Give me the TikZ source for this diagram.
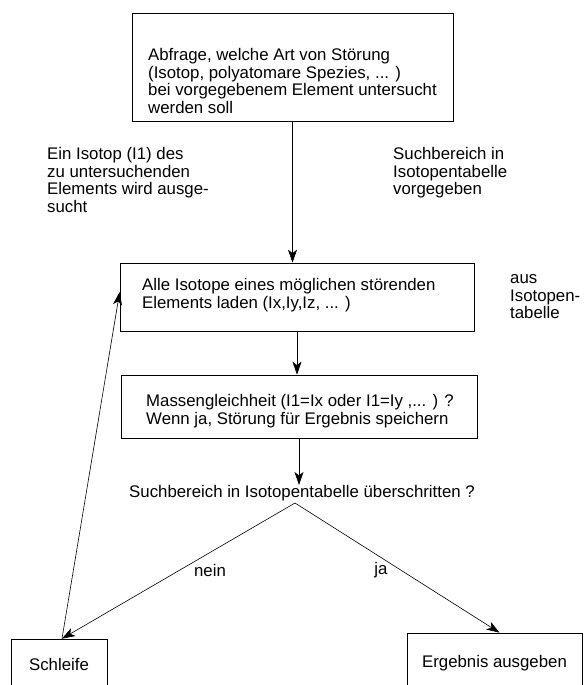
\documentclass[tikz,border=0pt]{standalone}
\usepackage{fontspec}
\setmainfont{Liberation Sans}
\usetikzlibrary{arrows.meta}
\tikzset{
  kasten/.style={draw, line width=0.7pt, inner sep=0pt},
  schrift/.style={font=\fontsize{16.8}{17.8}\selectfont, align=left, inner sep=0pt},
  pfeil/.style={line width=0.6pt, -{Stealth[length=13pt,width=9pt,inset=3.5pt]}}
}

\begin{document}
\begin{tikzpicture}[x=1pt,y=-1pt]
    \clip (0,0) rectangle (586,685);
    % boxes
    \node[kasten, minimum width=321pt, minimum height=108pt] (abfrage) at (292.5,67.5) {};
    \node[kasten, minimum width=354pt, minimum height=68pt] (alle) at (297,297) {};
    \node[kasten, minimum width=356pt, minimum height=63pt] (masse) at (299,406.5) {};
    \node[kasten, schrift, minimum width=96pt, minimum height=50pt] (schleife) at (59,664) {Schleife};
    \node[kasten, schrift, minimum width=175pt, minimum height=60pt] (ergebnis) at (494.5,663) {Ergebnis ausgeben};

    % text
    \node[schrift, anchor=north west] (abfragetext) at (148,48) {Abfrage, welche Art von Störung\\(Isotop, polyatomare Spezies, ... )\\bei vorgegebenem Element untersucht\\werden soll};
    \node[schrift, anchor=north west] (alletext) at (142,278) {Alle Isotope eines möglichen störenden\\Elements laden (Ix,Iy,Iz, ... )};
    \node[schrift, anchor=north west] (massetext) at (146,394) {Massengleichheit (I1=Ix oder I1=Iy ,... ) ?\\Wenn ja, Störung für Ergebnis speichern};
    \node[schrift] (frage) at (302,493) {Suchbereich in Isotopentabelle überschritten ?};
    \node[schrift, anchor=north west] (isotop) at (47,147) {Ein Isotop (I1) des\\zu untersuchenden\\Elements wird ausge-\\sucht};
    \node[schrift, anchor=north west] (bereich) at (393,147) {Suchbereich in\\Isotopentabelle\\vorgegeben};
    \node[schrift, anchor=north west] (quelle) at (510,274) {aus\\Isotopen-\\tabelle};
    \node[schrift] (nein) at (210,570) {nein};
    \node[schrift] (ja) at (381,570) {ja};

    % arrows
    \coordinate (spitze) at (295,503);
    \draw[pfeil] (abfrage.south) -- (abfrage.south |- alle.north);
    \draw[pfeil] (alle.south) -- (alle.south |- masse.north);
    \draw[pfeil] (masse.south) -- (masse.south |- frage.north);
    \draw[pfeil] (spitze) -- ([xshift=3pt]schleife.north);
    \draw[pfeil] (spitze) -- ([xshift=5pt]ergebnis.north);
    \draw[pfeil] ([xshift=3pt]schleife.north) -- ([yshift=5pt]alle.west);
\end{tikzpicture}
\end{document}
